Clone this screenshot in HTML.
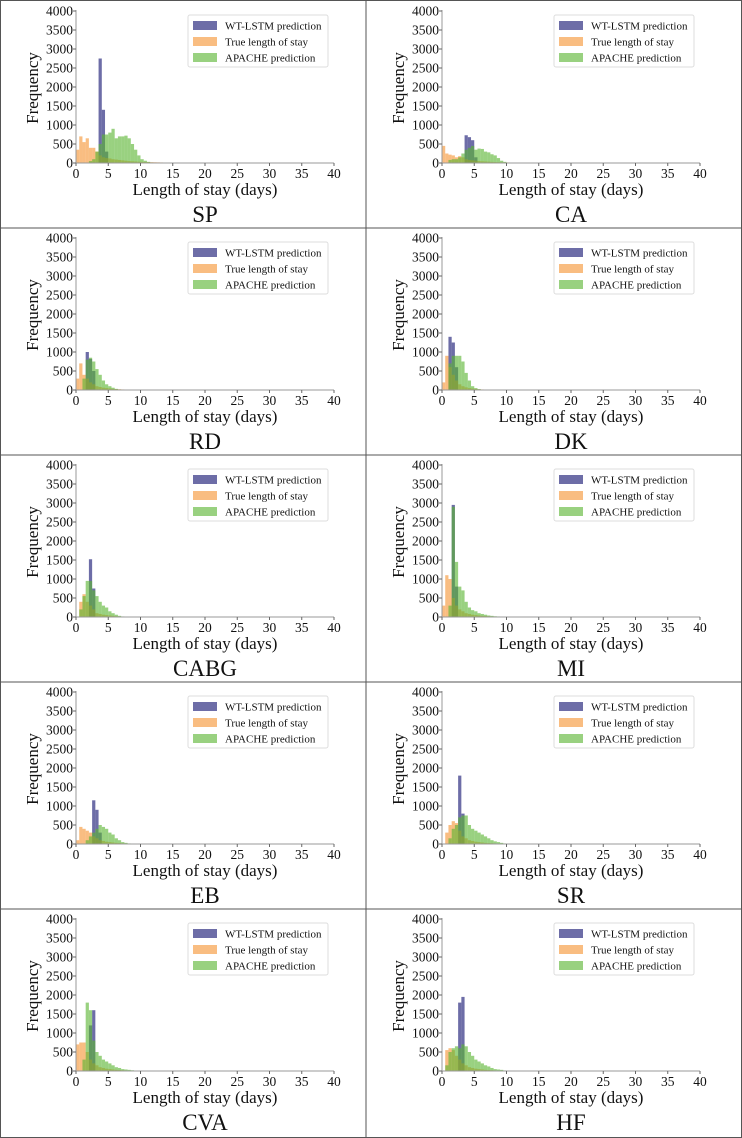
<!DOCTYPE html>
<html><head><meta charset="utf-8"><style>
html,body{margin:0;padding:0;background:#fff}
svg{display:block}
text{font-family:"Liberation Serif",serif;fill:#111}
</style></head><body>
<svg id="fig" width="742" height="1138" viewBox="0 0 742 1138" xmlns="http://www.w3.org/2000/svg">
<rect x="0.5" y="0.5" width="741" height="1137" fill="none" stroke="#555"/>
<line x1="366" y1="0" x2="366" y2="1138" stroke="#555"/>
<line x1="0" y1="228" x2="742" y2="228" stroke="#555"/>
<line x1="0" y1="455" x2="742" y2="455" stroke="#555"/>
<line x1="0" y1="682" x2="742" y2="682" stroke="#555"/>
<line x1="0" y1="909" x2="742" y2="909" stroke="#555"/>
</svg>
<script>
// bin width 0.5 days, bins start at 0
const binWidth = 0.5;
const xTicks = [0,5,10,15,20,25,30,35,40];
const yTicks = [0,500,1000,1500,2000,2500,3000,3500,4000];
const panelNames = ["SP","CA","RD","DK","CABG","MI","EB","SR","CVA","HF"];

const SP_wt = [0,0,0,0,0,0,0,2750,1400,300];
const SP_true = [350,700,550,650,400,400,300,200,150,130,120,100,90,80,70,60,50,45,40,35,30,28,25,22,20,18,15,12,10,10,8,8,6,6,5,5];
const SP_apache = [0,0,0,0,50,100,300,500,750,750,800,900,650,700,700,720,650,500,350,200,100,60,30,15];

const CA_wt = [0,0,0,0,0,0,0,730,680,600,150];
const CA_true = [450,250,220,200,150,180,150,100,80,70,60,50,45,40,35,30,25,22,20,18,15,12,10,10,8,6,5];
const CA_apache = [0,0,80,100,100,150,250,350,400,450,350,380,370,300,280,230,200,130,60,30];

const RD_wt = [0,0,0,1000,820,500];
const RD_true = [300,700,400,300,200,150,100,80,60,50,40,30,25,20,15,10,8,6,5];
const RD_apache = [0,0,300,800,850,750,550,400,250,150,100,60,30,15];

const DK_wt = [0,0,1400,1250,600];
const DK_true = [200,900,600,400,250,150,100,70,50,40,30,20,15,10,8,5];
const DK_apache = [0,0,700,900,900,900,750,450,250,100,50,25];

const CABG_wt = [0,0,0,0,1520,750];
const CABG_true = [0,400,600,400,300,200,100,80,60,50,40,30,20,15,10,8,5];
const CABG_apache = [0,200,550,950,950,700,550,400,300,250,150,100,60,30,15];

const MI_wt = [0,0,0,2950,800];
const MI_true = [300,1100,1000,500,300,200,150,100,80,60,50,40,30,25,20,15,10,8,6,5];
const MI_apache = [0,0,300,2900,1450,800,700,400,250,180,150,100,80,60,40,30,20,15,10];

const EB_wt = [0,0,0,0,0,1150,900,300];
const EB_true = [100,450,400,350,300,200,150,100,80,60,50,40,30,25,20,15,10,8,5];
const EB_apache = [0,0,0,100,200,300,400,500,450,400,300,250,150,100,50,30,15];

const SR_wt = [0,0,0,0,0,1800,800];
const SR_true = [0,300,500,600,550,350,200,150,100,80,60,50,40,30,25,20,15,10,8,5];
const SR_apache = [0,0,150,400,500,700,750,750,500,400,350,300,250,200,150,100,70,50,30,15];

const CVA_wt = [0,0,0,0,1200,1600];
const CVA_true = [700,750,750,500,300,200,150,100,80,60,50,40,30,25,20,15,10,8,5];
const CVA_apache = [0,0,300,1800,1600,800,500,400,300,250,200,150,100,80,50,40,30,20];

const HF_wt = [0,0,0,0,0,1800,1950];
const HF_true = [0,550,600,550,400,300,200,150,100,80,60,50,40,30,25,20,15,10,8,5];
const HF_apache = [0,150,500,600,650,600,700,650,500,400,300,250,200,150,120,80,50,40,30,15];

const panelData = [
  [SP_wt,SP_true,SP_apache],[CA_wt,CA_true,CA_apache],
  [RD_wt,RD_true,RD_apache],[DK_wt,DK_true,DK_apache],
  [CABG_wt,CABG_true,CABG_apache],[MI_wt,MI_true,MI_apache],
  [EB_wt,EB_true,EB_apache],[SR_wt,SR_true,SR_apache],
  [CVA_wt,CVA_true,CVA_apache],[HF_wt,HF_true,HF_apache]
];
const seriesLabels = ["WT-LSTM prediction","True length of stay","APACHE prediction"];
const seriesColors = ["rgba(30,30,120,0.65)","rgba(245,145,45,0.6)","rgba(90,180,50,0.62)"];

const NS = "http://www.w3.org/2000/svg";
const svg = document.getElementById("fig");
function mk(tag, attrs, parent){const e=document.createElementNS(NS,tag);for(const k in attrs)e.setAttribute(k,attrs[k]);(parent||svg).appendChild(e);return e;}

panelNames.forEach((name,i)=>{
  const ox = (i%2)*366, oy = Math.floor(i/2)*227;
  const L=ox+76, R=ox+334, T=oy+11, B=oy+163;
  const xs = v => L + (v/40)*(R-L);
  const ys = v => B - (v/4000)*(B-T);
  const g = mk("g",{});
  
  
  panelData[i].forEach((arr,s)=>{
    arr.forEach((v,k)=>{
      if(v<=0) return;
      const r = mk("rect",{x:xs(k*binWidth),y:ys(v),width:xs((k+1)*binWidth)-xs(k*binWidth),height:B-ys(v),fill:seriesColors[s]},g);
      
      
    });
  });
  const ya = mk("line",{x1:L,y1:T-1,x2:L,y2:B,stroke:"#999","stroke-width":1},g);
  
  
  const xa = mk("line",{x1:L,y1:B,x2:R,y2:B,stroke:"#999","stroke-width":1},g);
  
  
  yTicks.forEach(t=>{
    mk("line",{x1:L-3,y1:ys(t),x2:L,y2:ys(t),stroke:"#666"},g);
    const tx = mk("text",{x:L-3,y:ys(t)+4.5,"text-anchor":"end","font-size":"13.5"},g);
    tx.textContent=t;
    
    
  });
  xTicks.forEach(t=>{
    mk("line",{x1:xs(t),y1:B,x2:xs(t),y2:B+3,stroke:"#666"},g);
    const tx = mk("text",{x:xs(t),y:B+15,"text-anchor":"middle","font-size":"13.5"},g);
    tx.textContent=t;
    
    
  });
  const xl = mk("text",{x:ox+205,y:oy+195,"text-anchor":"middle","font-size":"17"},g);
  xl.textContent="Length of stay (days)";
  
  
  const yl = mk("text",{x:0,y:0,"text-anchor":"middle","font-size":"17",transform:`translate(${ox+38},${oy+88}) rotate(-90)`},g);
  yl.textContent="Frequency";
  
  
  const ti = mk("text",{x:ox+205,y:oy+222,"text-anchor":"middle","font-size":"23"},g);
  ti.textContent=name;
  
  
  const lg = mk("g",{},g);
  
  
  mk("rect",{x:ox+188,y:oy+15,width:140,height:52,rx:2,fill:"#fff","fill-opacity":0.85,stroke:"#ddd"},lg);
  seriesLabels.forEach((lab,s)=>{
    const yy = oy+21+s*16;
    const sw = mk("rect",{x:ox+193,y:yy,width:24,height:9,fill:seriesColors[s]},lg);
    
    
    const lt = mk("text",{x:ox+225,y:yy+8.5,"font-size":"11"},lg);
    lt.textContent=lab;
    
    
  });
});
</script>
</body></html>
